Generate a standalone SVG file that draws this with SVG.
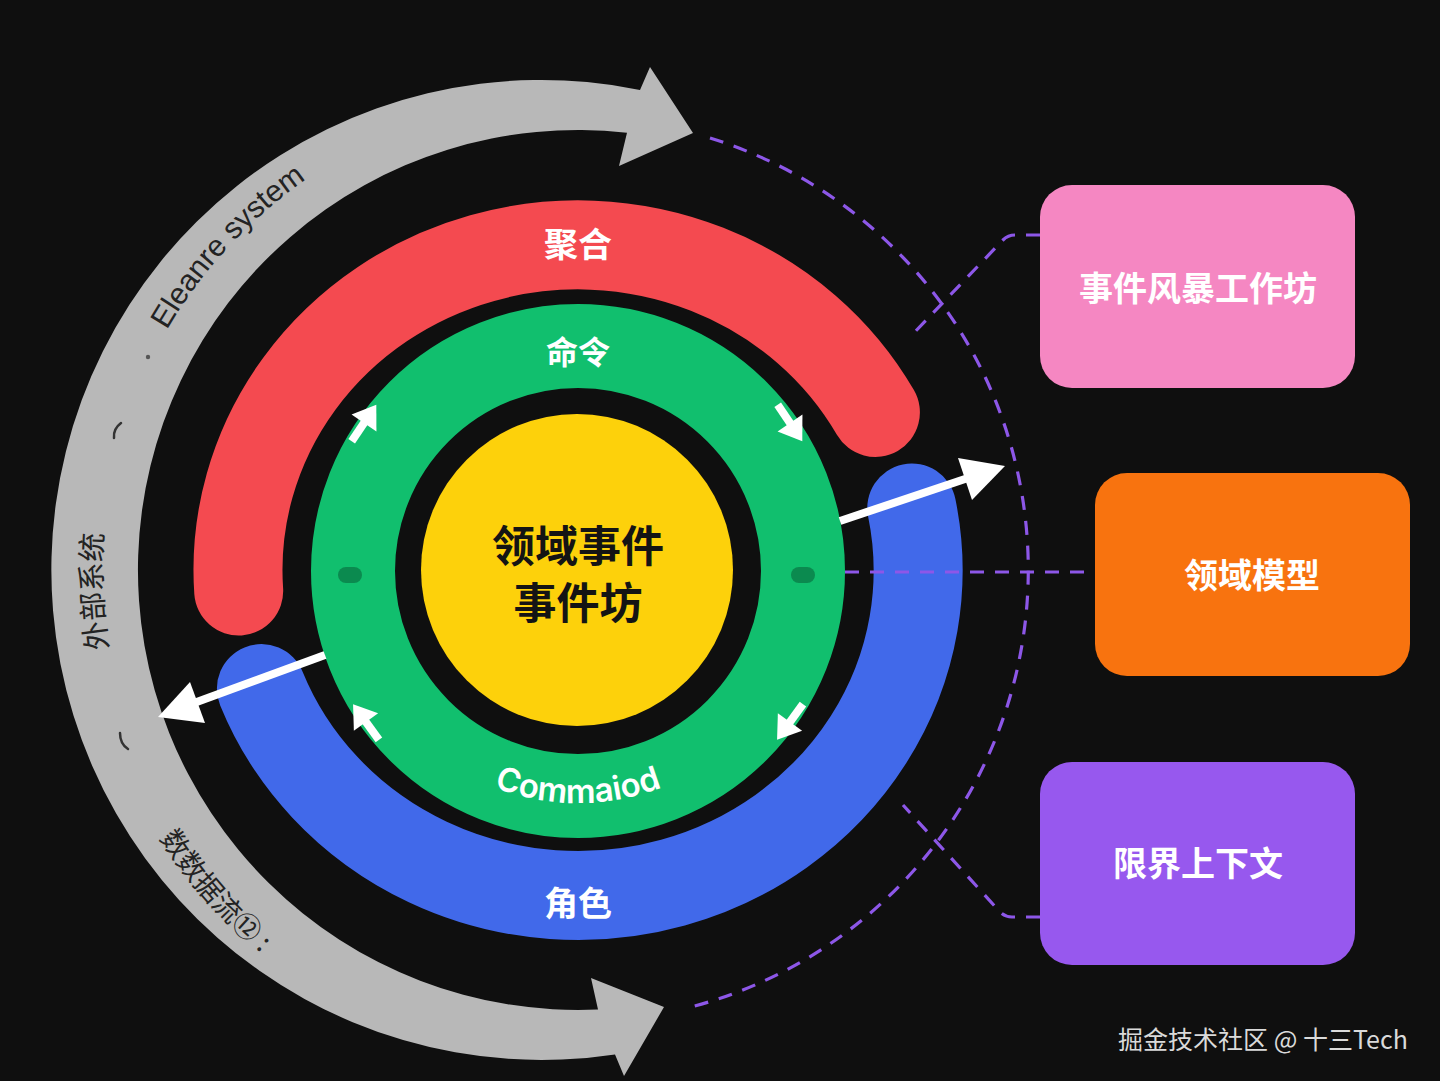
<svg xmlns="http://www.w3.org/2000/svg" width="1440" height="1081" viewBox="0 0 1440 1081">
  <style>
    .cjk { font-family: "Noto Sans CJK SC", "Noto Sans", sans-serif; }
    .lbl { fill: #ffffff; font-weight: 700; text-anchor: middle; dominant-baseline: central; }
    .dark { fill: #141414; font-weight: 700; text-anchor: middle; dominant-baseline: central; }
    .graytxt { fill: #232323; }
    .dash { fill: none; stroke: #8d57e8; stroke-width: 3.2; stroke-dasharray: 14 11; }
    .band { fill: none; stroke-width: 89; stroke-linecap: round; }
    .warrow { stroke: #ffffff; stroke-width: 8; fill: none; }
    .whead { fill: #ffffff; }
    .box-text { fill: #ffffff; font-weight: 700; font-size: 34px; text-anchor: middle; dominant-baseline: central; }
  </style>
  <defs>
    <path id="grayTop" d="M 130.7 732.8 A 476 476 0 0 1 578 94"/>
    <path id="grayBottom" d="M 81 570 A 497 497 0 0 0 578 1067"/>
    <path id="cmdArc" d="M 345 570 A 233 233 0 0 0 811 570"/>
    <g id="ringArrow">
      <line x1="-22" y1="0" x2="3" y2="0" stroke="#ffffff" stroke-width="8"/>
      <polygon points="22,0 0,-15 0,15" fill="#ffffff"/>
    </g>
  </defs>

  <rect x="0" y="0" width="1440" height="1081" fill="#0f0f0f"/>

  <!-- Outer gray flow arrow (external system / data flow) -->
  <g id="node-external-system">
    <path d="M 640 90 L 650 67 L 693 133 L 619 166 L 627 132.7 A 440 440 0 1 0 598 1009.5 L 591 978 L 664 1007 L 624 1076 L 615 1054.4 A 490 490 0 1 1 640 90 Z" fill="#b8b8b8"/>
    <text class="graytxt" font-family="Liberation Sans, Arial, sans-serif" font-size="30"><textPath href="#grayTop" startOffset="521" text-anchor="middle">Eleanre system</textPath></text>
    <text class="graytxt cjk" font-size="29"><textPath href="#grayTop" startOffset="145" text-anchor="middle">外部系统</textPath></text>
    <text class="graytxt cjk" font-size="28"><textPath href="#grayBottom" startOffset="360" text-anchor="middle">数数据流⑫ :</textPath></text>
    <path d="M 121 423 Q 113 429 114 438" fill="none" stroke="#333" stroke-width="2.5" stroke-linecap="round"/>
    <path d="M 120 733 Q 120 744 128 749" fill="none" stroke="#333" stroke-width="2.5" stroke-linecap="round"/>
    <circle cx="148" cy="357" r="2.2" fill="#555"/>
  </g>

  <!-- Aggregate (red) -->
  <g id="node-aggregate">
    <path class="band" stroke="#f44a50" d="M 238.7 591 A 340 325 0 0 1 875.4 412.4"/>
    <text class="lbl cjk" x="578" y="242" font-size="34">聚合</text>
  </g>

  <!-- Role (blue) -->
  <g id="node-role">
    <path class="band" stroke="#4169ea" d="M 911.8 508 A 340 325 0 0 1 261.4 688.6"/>
    <text class="lbl cjk" x="578" y="901" font-size="34">角色</text>
  </g>

  <!-- Command (green) -->
  <g id="node-command">
    <circle cx="578" cy="571" r="225" fill="none" stroke="#11bf6e" stroke-width="84"/>
    <rect x="338" y="567" width="24" height="16" rx="8" fill="#0b8a4f"/>
    <rect x="791" y="567" width="24" height="16" rx="8" fill="#0b8a4f"/>
    <text class="lbl cjk" x="578" y="350" font-size="32">命令</text>
    <text fill="#ffffff" font-family="Inter, Liberation Sans, sans-serif" font-weight="600" font-size="33"><textPath href="#cmdArc" startOffset="50%" text-anchor="middle">Commaiod</textPath></text>
  </g>

  <!-- Domain event core (yellow) -->
  <g id="node-domain-event">
    <circle cx="577" cy="570" r="156" fill="#fdd10b"/>
    <text class="dark cjk" x="578" y="543" font-size="43">领域事件</text>
    <text class="dark cjk" x="578" y="600" font-size="43">事件坊</text>
  </g>

  <!-- Right side boxes -->
  <g id="node-event-storming">
    <rect x="1040" y="185" width="315" height="203" rx="32" fill="#f587c2"/>
    <text class="box-text cjk" x="1198" y="286">事件风暴工作坊</text>
  </g>
  <g id="node-domain-model">
    <rect x="1095" y="473" width="315" height="203" rx="32" fill="#f8730f"/>
    <text class="box-text cjk" x="1252" y="573">领域模型</text>
  </g>
  <g id="node-bounded-context">
    <rect x="1040" y="762" width="315" height="203" rx="32" fill="#9758ee"/>
    <text class="box-text cjk" x="1198" y="861">限界上下文</text>
  </g>

  <!-- Connectors -->
  <g id="connectors">
    <path class="dash" d="M 710 138 A 452 452 0 0 1 687 1008"/>
    <path class="dash" d="M 1040 235 L 1015 235 Q 1008 235 1003 240 L 910 337"/>
    <path class="dash" d="M 845 572 L 1095 572"/>
    <path class="dash" d="M 1040 917 L 1012 917 Q 1005 917 1000 912 L 903 805"/>

    <line class="warrow" x1="840" y1="521" x2="968" y2="478"/>
    <polygon class="whead" points="1005,466 958,458 972,500"/>
    <line class="warrow" x1="325" y1="655" x2="194" y2="703"/>
    <polygon class="whead" points="158,717 190,682 205,723"/>

    <use href="#ringArrow" transform="translate(364,423) rotate(-56)"/>
    <use href="#ringArrow" transform="translate(790,423) rotate(56)"/>
    <use href="#ringArrow" transform="translate(790,722) rotate(126)"/>
    <use href="#ringArrow" transform="translate(366,722) rotate(-126)"/>
  </g>

  <text class="cjk" x="1263" y="1038" fill="#dadada" font-size="25" text-anchor="middle" dominant-baseline="central">掘金技术社区 @ 十三Tech</text>
</svg>
